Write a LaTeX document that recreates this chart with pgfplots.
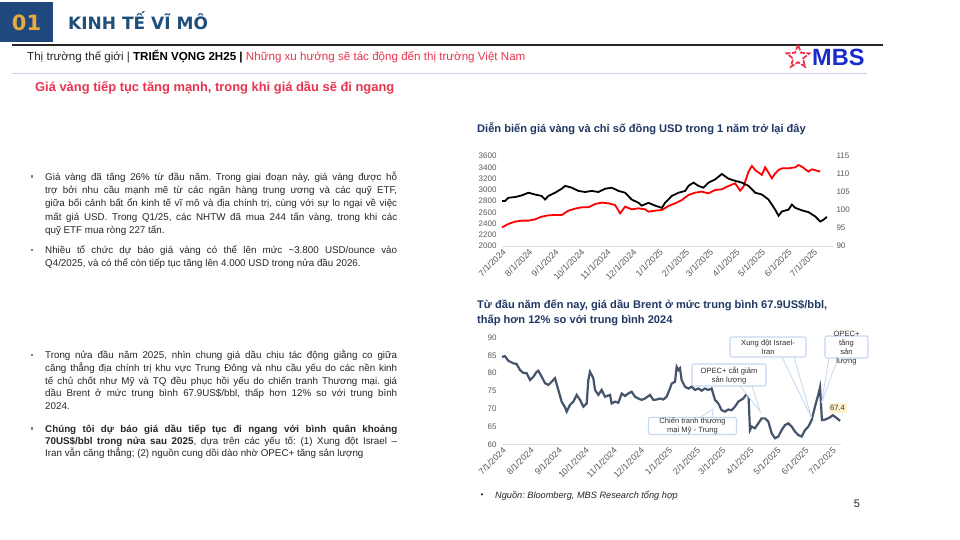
\documentclass[border=0pt]{standalone}
\usepackage{fontspec}
\setmainfont{Liberation Sans}
\newfontfamily\headfont{DejaVu Sans}
\usepackage{pgfplots}
\pgfplotsset{compat=1.18}
\usetikzlibrary{shapes.geometric}
\definecolor{navyA}{HTML}{1F497D}
\definecolor{goldA}{HTML}{E9A93B}
\definecolor{headblue}{HTML}{1F4E79}
\definecolor{redtxt}{HTML}{E8344E}
\definecolor{titlenavy}{HTML}{1F3864}
\definecolor{tickgray}{HTML}{595959}
\definecolor{oilc}{HTML}{44546A}
\definecolor{cbord}{HTML}{C5D8F0}
\definecolor{lblyellow}{HTML}{FFF2CC}
\definecolor{mbsblue}{HTML}{1A2DCC}
\definecolor{mbsred}{HTML}{E8304A}
\definecolor{periw}{HTML}{C9D0F7}
\definecolor{bodyc}{HTML}{262626}
\newcommand\fs[2]{\fontsize{#1}{#2}\selectfont}
\newcommand\jl[1]{\hbox to 352pt{#1}}
\begin{document}
\frenchspacing
\begin{tikzpicture}
\path[use as bounding box] (0,0) rectangle (960pt,-540pt);
\fill[white] (0,0) rectangle (960pt,-540pt);
% header
\fill[navyA] (0,-2pt) rectangle (53pt,-42pt);
\node[text=goldA, font=\headfont\fs{21}{21}\bfseries] at (26.5pt,-22.5pt) {01};
\node[anchor=west, text=headblue, font=\headfont\fs{17}{18}\bfseries, inner sep=0] at (68pt,-21pt) {KINH TẾ VĨ MÔ};
\draw[line width=2.5pt, black!85] (12pt,-45pt) -- (883pt,-45pt);
\node[anchor=base west, inner sep=0, font=\fs{11.6}{13}] at (27pt,-61pt) {\textcolor{bodyc}{Thị trường thế giới |} \textbf{TRIỂN VỌNG 2H25 |} \textcolor{redtxt}{Những xu hướng sẽ tác động đến thị trường Việt Nam}};
\node[anchor=west, text=mbsblue, font=\fs{23.5}{24}\bfseries, inner sep=0] at (812pt,-57pt) {MBS};
\node[star, star points=5, star point ratio=2.3, draw=mbsred, line width=1.7pt, minimum size=24pt, inner sep=0, dash pattern=on 5pt off 1.5pt] at (798pt,-57pt) {};
\draw[periw, line width=0.8pt] (12pt,-73.5pt) -- (867pt,-73.5pt);
\node[anchor=base west, inner sep=0, text=redtxt, font=\fs{12.9}{14}\bfseries] at (35pt,-91.5pt) {Giá vàng tiếp tục tăng mạnh, trong khi giá dầu sẽ đi ngang};
% bullets
\foreach \yy in {176.7,250,355,428.5} {\fill[gray] (30.8pt,-\yy pt+1.3pt) rectangle (33.3pt,-\yy pt-1.2pt);}
\node[anchor=base west, inner sep=0, text=bodyc] at (45pt,-180.2pt) {\begin{minipage}[t]{352pt}\fs{9.8}{13.3}%
\jl{Giá vàng đã tăng 26\% từ đầu năm. Trong giai đoạn này, giá vàng được hỗ}
\jl{trợ bởi nhu cầu mạnh mẽ từ các ngân hàng trung ương và các quỹ ETF,}
\jl{giữa bối cảnh bất ổn kinh tế vĩ mô và địa chính trị, cùng với sự lo ngại về việc}
\jl{mất giá USD. Trong Q1/25, các NHTW đã mua 244 tấn vàng, trong khi các}
\hbox{quỹ ETF mua ròng 227 tấn.}
\end{minipage}};
\node[anchor=base west, inner sep=0, text=bodyc] at (45pt,-253.5pt) {\begin{minipage}[t]{352pt}\fs{9.8}{13.3}%
\jl{Nhiều tổ chức dự báo giá vàng có thể lên mức \textasciitilde3.800 USD/ounce vào}
\hbox{Q4/2025, và có thể còn tiếp tục tăng lên 4.000 USD trong nửa đầu 2026.}
\end{minipage}};
\node[anchor=base west, inner sep=0, text=bodyc] at (45pt,-358.5pt) {\begin{minipage}[t]{352pt}\fs{9.8}{12.8}%
\jl{Trong nửa đầu năm 2025, nhìn chung giá dầu chịu tác động giằng co giữa}
\jl{căng thẳng địa chính trị khu vực Trung Đông và nhu cầu yếu do các nền kinh}
\jl{tế chủ chốt như Mỹ và TQ đều phục hồi yếu do chiến tranh Thương mại. giá}
\jl{dầu Brent ở mức trung bình 67.9US\$/bbl, thấp hơn 12\% so với trung bình}
\hbox{2024.}
\end{minipage}};
\node[anchor=base west, inner sep=0, text=bodyc] at (45pt,-432pt) {\begin{minipage}[t]{352pt}\fs{9.8}{12.2}%
\jl{\bfseries Chúng tôi dự báo giá dầu tiếp tục đi ngang với bình quân khoảng}
\jl{\textbf{70US\$/bbl trong nửa sau 2025}, dựa trên các yếu tố: (1) Xung đột Israel --}
\hbox{Iran vẫn căng thẳng; (2) nguồn cung dồi dào nhờ OPEC+ tăng sản lượng}
\end{minipage}};
% chart titles
\node[anchor=base west, inner sep=0, text=titlenavy, font=\fs{11.1}{12}\bfseries] at (477pt,-133pt) {Diễn biến giá vàng và chỉ số đồng USD trong 1 năm trở lại đây};
\node[anchor=base west, inner sep=0, text=titlenavy, font=\fs{11.1}{12}\bfseries] at (477pt,-308pt) {Từ đầu năm đến nay, giá dầu Brent ở mức trung bình 67.9US\$/bbl,};
\node[anchor=base west, inner sep=0, text=titlenavy, font=\fs{11.1}{12}\bfseries] at (477pt,-323pt) {thấp hơn 12\% so với trung bình 2024};
\pgfplotsset{slide/.style={scale only axis, axis line style={draw=none}, tick style={draw=none}, major tick length=0pt,
  tick label style={font=\fs{8}{9}, text=tickgray}, /pgf/number format/1000 sep={}, /pgf/number format/assume math mode=true,
  x tick label style={font=\fs{8.8}{9}, rotate=45, anchor=north east, inner sep=1.5pt}, clip=false,
  xtick={0,31,62,92,123,153,184,215,243,274,304,335,365},
  xticklabels={7/1/2024,8/1/2024,9/1/2024,10/1/2024,11/1/2024,12/1/2024,1/1/2025,2/1/2025,3/1/2025,4/1/2025,5/1/2025,6/1/2025,7/1/2025}}}
% chart 1 gold (left)
\begin{axis}[slide, at={(502pt,-246pt)}, anchor=south west, width=331pt, height=90pt, xmin=0, xmax=388, ymin=2000, ymax=3600,
  ytick={2000,2200,...,3600}, yticklabel style={xshift=-2pt}]
\draw[gray!25, line width=0.8pt] (rel axis cs:0,0) -- (rel axis cs:1,0);
\addplot[red, line width=1.8pt] coordinates {(0,2332)(7.4,2391)(15.3,2433)(23.1,2451)(31,2451)(38.7,2474)(46.5,2522)(54.4,2545)(62.2,2551)(70,2551)(77.8,2628)(85.6,2664)(93.5,2688)(101.3,2688)(109.1,2747)(117,2771)(124.7,2759)(132.6,2729)(138.4,2581)(144.3,2700)(152.1,2652)(160,2670)(167.8,2652)(171.7,2611)(179.5,2628)(187.3,2640)(195.1,2711)(203,2759)(210.8,2818)(218.6,2907)(226.4,2948)(234.2,2966)(242,2936)(249.9,2996)(257.7,3008)(265.5,3067)(273.3,3114)(279.2,2984)(283.1,3055)(289,3322)(292.9,3423)(296.8,3351)(304.6,3262)(308.5,3399)(312.4,3304)(316.3,3203)(320.2,3292)(324.2,3351)(328.1,3381)(335.9,3381)(343.7,3399)(347.6,3440)(351.5,3410)(359.3,3322)(363.3,3363)(369.1,3339)(373,3322)};
\end{axis}
% chart 1 USD index (right)
\begin{axis}[slide, at={(502pt,-246pt)}, anchor=south west, width=331pt, height=90pt, xmin=0, xmax=388, ymin=90, ymax=115,
  ytick={90,95,...,115}, yticklabel pos=right, xtick=\empty]
\addplot[black, line width=1.8pt] coordinates {(0,102.5)(3.5,102.5)(7.4,103.4)(15.3,103.6)(23.1,104.05)(31,104.8)(38.7,104.3)(46.5,103.9)(50.5,102.9)(54.4,103.9)(62.2,104.8)(70,105.9)(73.9,106.7)(81.7,106.2)(89.6,105.3)(97.4,105.0)(105.2,105.3)(113,105.0)(120.8,105.9)(128.7,106.2)(136.5,105.3)(144.3,104.8)(152.1,102.9)(160,102.0)(163.8,101.2)(171.7,102.0)(179.5,101.2)(187.3,100.6)(191.2,102.0)(199,103.9)(206.9,104.8)(214.7,105.3)(218.6,106.7)(224.4,107.6)(230.3,106.7)(236.2,106.2)(242,107.6)(249.9,108.5)(257.7,110.0)(265.5,108.7)(273.3,108.1)(281.1,107.6)(289,106.7)(296.8,104.8)(304.6,104.3)(312.4,102.9)(320.2,100.1)(324.2,98.4)(328.1,99.6)(335.9,100.1)(339.8,101.5)(343.7,100.6)(351.5,99.9)(359.3,99.4)(367.2,98.2)(373,96.8)(376.9,97.3)(380.8,98.1)};
\end{axis}
% chart 2 Brent
\begin{axis}[slide, at={(502pt,-444.3pt)}, anchor=south west, width=339pt, height=106.6pt, xmin=0, xmax=375, ymin=60, ymax=90,
  ytick={60,65,...,90}, yticklabel style={xshift=-2pt}]
\draw[gray!25, line width=0.8pt] (rel axis cs:0,0) -- (rel axis cs:1,0);
\addplot[oilc, line width=2.2pt] coordinates {(0,84.6)(3.3,84.8)(7,83.5)(12.5,82.8)(16.2,82.6)(19.9,80.9)(23.6,80.1)(27.3,80.0)(31,78.1)(34.7,79.0)(38.3,80.4)(40.2,80.7)(43.9,79.0)(47.6,77.2)(51.3,76.7)(54.9,77.6)(58.6,78.6)(62.3,75.3)(66,72.0)(69.7,70.4)(71.5,69.2)(75.2,71.1)(78.9,72.0)(82.6,73.9)(86.3,72.5)(90,70.6)(93.7,71.5)(95.5,78.1)(97.3,80.4)(99.2,79.5)(101,78.6)(102.9,75.3)(106.6,73.9)(110.2,75.3)(113.9,73.4)(119.5,73.9)(121.3,71.5)(125,72.0)(128.7,71.7)(132.4,74.3)(136.1,73.6)(139.7,74.3)(143.4,74.8)(147.1,73.4)(150.8,72.9)(154.5,72.5)(158.2,72.9)(163.7,73.9)(167.4,72.5)(171.1,72.6)(174.8,72.9)(178.5,72.6)(182.1,73.4)(185.8,75.7)(187.7,77.1)(191.4,77.6)(193.2,81.8)(195.1,80.9)(196.9,81.4)(198.7,78.1)(202.4,76.2)(206.1,75.7)(209.8,76.2)(213.5,75.3)(217.2,75.7)(220.9,75.1)(224.5,75.7)(228.2,75.3)(231.9,75.7)(235.6,72.5)(239.3,71.5)(243,69.6)(246.7,69.2)(250.3,69.8)(254,69.6)(257.7,70.6)(261.4,72.0)(266.9,72.9)(272.5,74.8)(274.3,64.0)(276.2,65.0)(279.8,64.5)(283.5,65.9)(287.2,67.3)(290.9,67.3)(294.6,66.4)(298.3,63.1)(302,61.7)(305.7,62.2)(309.3,64.0)(313,65.4)(316.7,65.9)(320.4,65.0)(324.1,63.6)(327.8,62.6)(331.5,62.2)(335.2,64.0)(338.9,65.0)(342.5,66.8)(346.2,70.6)(349.9,74.0)(351.8,76.0)(353.9,66.8)(358,67.0)(362.8,67.6)(366,68.2)(370.6,67.3)(374,66.6)};
\end{axis}
% callouts
\tikzset{cbox/.style={draw=cbord, fill=white, line width=1.1pt, rounded corners=2pt}, ctxt/.style={font=\fs{7.6}{9}, text=black!80, align=center, inner sep=0}}
\filldraw[cbord, fill=white, line width=0.8pt] (700pt,-417.5pt) -- (713pt,-409pt) -- (712pt,-417.5pt);
\draw[cbox] (648.5pt,-417.5pt) rectangle (736.5pt,-434.5pt);
\node[ctxt] at (692.5pt,-426pt) {Chiến tranh thương\\mại Mỹ - Trung};
\filldraw[cbord, fill=white, line width=0.8pt] (740pt,-386pt) -- (760pt,-411pt) -- (752pt,-386pt);
\draw[cbox] (692pt,-364pt) rectangle (766pt,-386pt);
\node[ctxt] at (729pt,-375pt) {OPEC+ cắt giảm\\sản lượng};
\filldraw[cbord, fill=white, line width=0.8pt] (782pt,-357pt) -- (811.5pt,-418pt) -- (794pt,-357pt);
\draw[cbox] (730pt,-337pt) rectangle (806pt,-357pt);
\node[ctxt] at (768pt,-347pt) {Xung đột Israel-\\Iran};
\filldraw[cbord, fill=white, line width=0.8pt] (829pt,-358pt) -- (821.5pt,-403pt) -- (838pt,-358pt);
\draw[cbox] (825pt,-336pt) rectangle (868pt,-358pt);
\node[ctxt] at (846.5pt,-348pt) {OPEC+\\tăng\\sản\\lượng};
\fill[lblyellow] (828.5pt,-402.5pt) rectangle (846.5pt,-412.5pt);
\node[ctxt] at (837.5pt,-407.5pt) {67.4};
% footer
\node[text=bodyc, font=\fs{8}{9}] at (482pt,-496pt) {•};
\node[anchor=base west, inner sep=0, text=bodyc, font=\fs{9.2}{10}\itshape] at (495pt,-498.5pt) {Nguồn: Bloomberg, MBS Research tổng hợp};
\node[text=bodyc, font=\fs{11}{12}] at (857pt,-504pt) {5};
\end{tikzpicture}
\end{document}
